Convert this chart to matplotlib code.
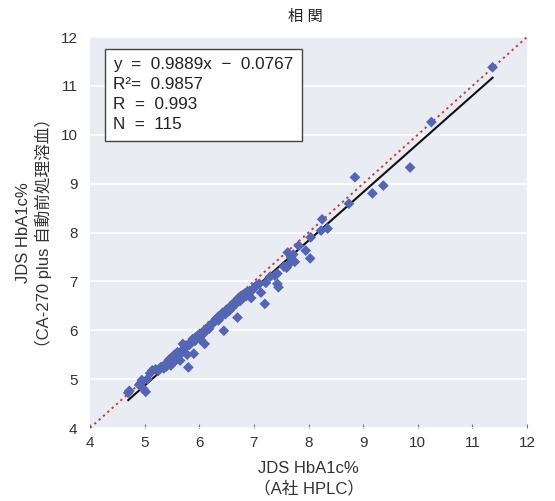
import matplotlib
matplotlib.use("Agg")
import matplotlib.pyplot as plt
import numpy as np

plt.rcParams['font.family'] = ['Liberation Sans', 'Noto Sans CJK JP', 'DejaVu Sans']

x_vals = [4.70, 4.72, 4.90, 4.93, 4.98, 5.02, 4.95, 5.05, 5.10, 5.14,
          5.20, 5.25, 5.30, 5.35, 5.38, 5.42, 5.45, 5.48, 5.50, 5.52,
          5.55, 5.58, 5.60, 5.62, 5.65, 5.68, 5.70, 5.72, 5.75, 5.78,
          5.80, 5.82, 5.85, 5.88, 5.90, 5.92, 5.95, 5.98, 6.00, 6.03,
          6.05, 6.08, 6.10, 6.12, 6.15, 6.18, 6.20, 6.25, 6.28, 6.30,
          6.35, 6.38, 6.40, 6.43, 6.45, 6.48, 6.50, 6.52, 6.55, 6.58,
          6.60, 6.62, 6.65, 6.68, 6.70, 6.70, 6.72, 6.75, 6.76, 6.78,
          6.80, 6.82, 6.84, 6.86, 6.88, 6.90, 6.92, 6.95, 6.97, 7.00,
          7.05, 7.13, 7.20, 7.22, 7.30, 7.38, 7.43, 7.43, 7.45, 7.55,
          7.60, 7.62, 7.65, 7.68, 7.70, 7.72, 7.75, 7.82, 7.95, 8.03,
          8.04, 8.23, 8.25, 8.35, 8.74, 8.85, 9.17, 9.37, 9.86, 10.25,
          11.37, 6.55, 5.40, 6.35, 7.10]
y_vals = [4.72, 4.76, 4.88, 4.92, 4.80, 4.74, 4.98, 5.00, 5.12, 5.18,
          5.20, 5.17, 5.25, 5.22, 5.30, 5.35, 5.40, 5.28, 5.45, 5.33,
          5.50, 5.40, 5.55, 5.47, 5.38, 5.58, 5.72, 5.62, 5.68, 5.50,
          5.24, 5.70, 5.76, 5.82, 5.52, 5.78, 5.86, 5.90, 5.85, 5.80,
          5.95, 5.93, 5.72, 6.02, 6.05, 6.03, 6.10, 6.14, 6.18, 6.22,
          6.20, 6.25, 6.30, 6.36, 5.99, 6.33, 6.42, 6.40, 6.45, 6.50,
          6.46, 6.52, 6.58, 6.55, 6.26, 6.62, 6.66, 6.60, 6.70, 6.64,
          6.72, 6.68, 6.76, 6.70, 6.78, 6.74, 6.80, 6.66, 6.82, 6.86,
          6.92, 6.77, 6.54, 6.97, 7.10, 7.12, 7.16, 6.95, 6.88, 7.30,
          7.28, 7.59, 7.36, 7.50, 7.44, 7.55, 7.40, 7.73, 7.63, 7.47,
          7.90, 8.04, 8.27, 8.08, 8.59, 9.13, 8.80, 8.96, 9.33, 10.26,
          11.38, 6.40, 5.26, 6.28, 6.95]

slope = 0.9889
intercept = -0.0767
ticks = [4, 5, 6, 7, 8, 9, 10, 11, 12]
stats_text = "y  =  0.9889x  \u2212  0.0767\nR\u00b2=  0.9857\nR  =  0.993\nN  =  115"

fig = plt.figure(figsize=(5.55, 5.01), dpi=100)
ax = fig.add_axes([90/555, 1-428/501, 437/555, 391/501])
ax.set_facecolor('#e9ecf3')
ax.set_xlim(4, 12)
ax.set_ylim(4, 12)
for s in ax.spines.values():
    s.set_visible(False)
ax.set_yticks(ticks)
ax.set_xticks(ticks)
ax.yaxis.grid(True, color='white', lw=1.2)
ax.set_axisbelow(True)
ax.tick_params(axis='y', length=0, pad=9, labelsize=11, labelcolor='#333333')
ax.tick_params(axis='x', direction='in', length=3, color='#777777', pad=6,
               labelsize=11, labelcolor='#333333')

ax.plot([4, 12], [4, 12], color='#c8403c', ls=(0, (1.2, 1.8)), lw=1.4, zorder=2)
fx = np.array([min(x_vals), max(x_vals)])
ax.plot(fx, slope*fx + intercept, color='#111111', lw=1.5, zorder=3)
ax.scatter(x_vals, y_vals, marker='D', s=30, color='#5465b4', edgecolors='none', zorder=4)

ax.text(0.053, 0.948, stats_text, transform=ax.transAxes, ha='left', va='top',
        fontsize=12.3, color='#222222', linespacing=1.42,
        bbox=dict(boxstyle='square,pad=0.5', fc='white', ec='#444444', lw=1.0), zorder=5)

fig.text(305/555, 1-17/501, "相 関", ha='center', va='center', fontsize=11, color='#222222')
ax.set_xlabel("JDS HbA1c%\n（A社 HPLC）", fontsize=12, color='#333333', labelpad=8, linespacing=1.3)
ax.set_ylabel("JDS HbA1c%\n（CA-270 plus 自動前処理溶血）", fontsize=12, color='#333333', labelpad=6, linespacing=1.3)

fig.savefig("out.png", dpi=100)
